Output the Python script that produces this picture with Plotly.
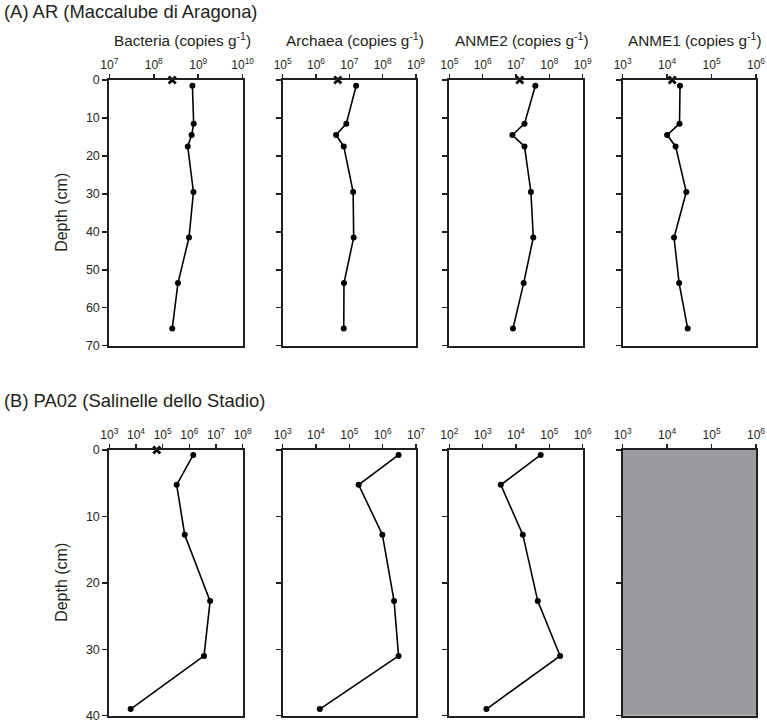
import plotly.graph_objects as go

# ---------------- data ----------------
ar_depth = [1.5, 11.5, 14.5, 17.5, 29.5, 41.5, 53.5, 65.5]
ar_bacteria = [7.4e8, 7.9e8, 7.1e8, 5.8e8, 7.8e8, 6.2e8, 3.5e8, 2.6e8]
ar_archaea = [1.6e7, 8.1e6, 4.0e6, 6.8e6, 1.3e7, 1.35e7, 6.9e6, 6.8e6]
ar_anme2 = [3.8e7, 1.8e7, 7.8e6, 1.8e7, 2.8e7, 3.3e7, 1.7e7, 8.1e6]
ar_anme1 = [1.95e4, 1.9e4, 1.0e4, 1.55e4, 2.7e4, 1.43e4, 1.86e4, 2.9e4]
ar_x_depth = [0]
ar_x_bacteria = [2.6e8]
ar_x_archaea = [4.5e6]
ar_x_anme2 = [1.3e7]
ar_x_anme1 = [1.3e4]

pa_depth = [0.75, 5.25, 12.75, 22.75, 31, 39]
pa_bacteria = [1.4e6, 3.35e5, 6.7e5, 6.0e6, 3.55e6, 6.3e3]
pa_archaea = [3.0e6, 1.9e5, 9.8e5, 2.2e6, 3.0e6, 1.3e4]
pa_anme2 = [5.5e4, 3.5e3, 1.6e4, 4.5e4, 2.1e5, 1.3e3]
pa_x_depth = [0]
pa_x_bacteria = [6.0e4]

panel_titles = ["Bacteria (copies g<sup>-1</sup>)", "Archaea (copies g<sup>-1</sup>)",
                "ANME2 (copies g<sup>-1</sup>)", "ANME1 (copies g<sup>-1</sup>)"]
row_titles = ["(A) AR (Maccalube di Aragona)", "(B) PA02 (Salinelle dello Stadio)"]
x_exp_ranges = [[(7, 10), (5, 9), (5, 9), (3, 6)],
                [(3, 8), (3, 7), (2, 6), (3, 6)]]
depth_max = [70, 40]
depth_ticks = [[0, 10, 20, 30, 40, 50, 60, 70], [0, 10, 20, 30, 40]]

# ---------------- layout geometry ----------------
W, H = 767, 724
cols_px = [(109.3, 242.7), (282.7, 416.0), (449.3, 582.7), (622.7, 756.0)]
rows_px = [(80, 345.7), (450, 715.7)]
INK = "#231f20"
FONT = "Liberation Sans, Arial, sans-serif"

fig = go.Figure()
layout = dict(width=W, height=H, margin=dict(l=0, r=0, t=0, b=0, pad=0, autoexpand=False),
              paper_bgcolor="white", plot_bgcolor="white", showlegend=False,
              template="none",
              font=dict(family=FONT, color=INK))

series = [
    [(ar_depth, ar_bacteria, ar_x_depth, ar_x_bacteria),
     (ar_depth, ar_archaea, ar_x_depth, ar_x_archaea),
     (ar_depth, ar_anme2, ar_x_depth, ar_x_anme2),
     (ar_depth, ar_anme1, ar_x_depth, ar_x_anme1)],
    [(pa_depth, pa_bacteria, pa_x_depth, pa_x_bacteria),
     (pa_depth, pa_archaea, None, None),
     (pa_depth, pa_anme2, None, None),
     None],
]

annotations = []
shapes = []
for r in range(2):
    y0p, y1p = rows_px[r]
    for c in range(4):
        n = r * 4 + c + 1
        sfx = "" if n == 1 else str(n)
        x0p, x1p = cols_px[c]
        lo, hi = x_exp_ranges[r][c]
        tv = [10 ** k for k in range(lo, hi + 1)]
        tt = ["10<sup>%d</sup>" % k for k in range(lo, hi + 1)]
        layout["xaxis" + sfx] = dict(
            domain=[x0p / W, x1p / W], anchor="y" + sfx, type="log",
            range=[lo, hi], side="top", tickvals=tv, ticktext=tt,
            ticks="outside", ticklen=4, tickwidth=1.5, tickcolor=INK,
            showline=True, linewidth=2, linecolor=INK, mirror=True,
            showgrid=False, zeroline=False, automargin=False,
            tickfont=dict(size=12, family=FONT, color=INK), fixedrange=True)
        layout["yaxis" + sfx] = dict(
            domain=[1 - y1p / H, 1 - y0p / H], anchor="x" + sfx,
            range=[depth_max[r], 0], tickvals=depth_ticks[r],
            showticklabels=(c == 0),
            ticks="outside", ticklen=5, tickwidth=1.5, tickcolor=INK,
            showline=True, linewidth=2, linecolor=INK, mirror=True,
            showgrid=False, zeroline=False, automargin=False,
            tickfont=dict(size=12.5, family=FONT, color=INK), fixedrange=True)
        s = series[r][c]
        if s is None:
            shapes.append(dict(type="rect", xref="x%s domain" % sfx, yref="y%s domain" % sfx,
                               x0=0, x1=1, y0=0, y1=1, fillcolor="#9c9ca0",
                               line=dict(width=0), layer="below"))
            fig.add_trace(go.Scatter(x=[None], y=[None], mode="markers",
                                     xaxis="x" + sfx, yaxis="y" + sfx, hoverinfo="skip"))
        else:
            d, v, xd, xv = s
            fig.add_trace(go.Scatter(x=v, y=d, mode="lines+markers",
                                     xaxis="x" + sfx, yaxis="y" + sfx,
                                     line=dict(color="black", width=1.6),
                                     marker=dict(color="black", size=6),
                                     cliponaxis=False, hoverinfo="skip"))
            if xv is not None:
                fig.add_trace(go.Scatter(x=xv, y=xd, mode="markers",
                                         xaxis="x" + sfx, yaxis="y" + sfx,
                                         marker=dict(color="black", size=7, symbol="x-thin",
                                                     line=dict(width=2.8, color="black")),
                                         cliponaxis=False, hoverinfo="skip"))
        if r == 0:
            annotations.append(dict(text=panel_titles[c], x=(x0p + x1p) / 2 / W + 0.008,
                                    y=1 - 40 / H, xref="paper", yref="paper",
                                    showarrow=False, xanchor="center", yanchor="middle",
                                    font=dict(size=15.3, family=FONT, color=INK)))
    annotations.append(dict(text=row_titles[r], x=2 / W, y=1 - (12 if r == 0 else 400) / H,
                            xref="paper", yref="paper", showarrow=False,
                            xanchor="left", yanchor="middle",
                            font=dict(size=18.4, family=FONT, color=INK)))
    annotations.append(dict(text="Depth (cm)", x=62 / W, y=1 - (y0p + y1p) / 2 / H,
                            xref="paper", yref="paper", showarrow=False, textangle=-90,
                            xanchor="center", yanchor="middle",
                            font=dict(size=16, family=FONT, color=INK)))

layout["annotations"] = annotations
layout["shapes"] = shapes
fig.update_layout(**layout)
fig.write_html("out.html",
               config={"displayModeBar": False, "staticPlot": True},
               post_script="document.body.style.margin='0px';"
                           "document.body.style.overflow='hidden';")
